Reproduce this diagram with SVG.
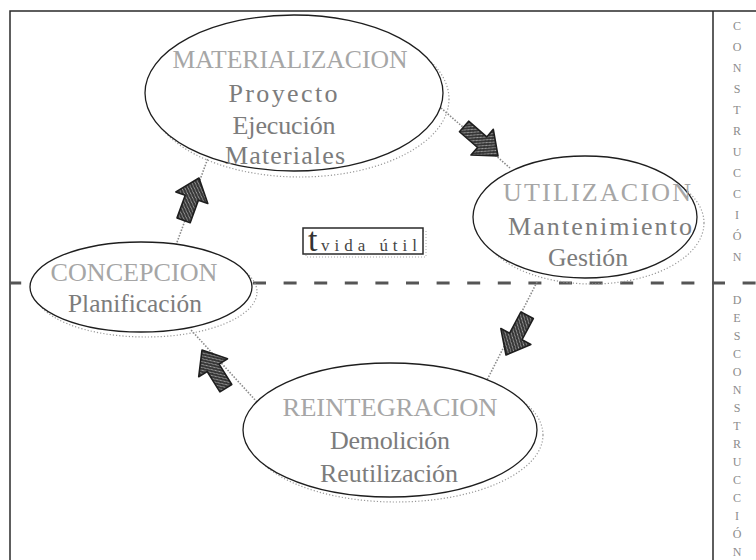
<svg xmlns="http://www.w3.org/2000/svg" width="756" height="560" viewBox="0 0 756 560">
<defs>
<pattern id="hatch" width="4" height="4" patternUnits="userSpaceOnUse">
<rect width="4" height="4" fill="#363636"/>
<path d="M0 4L4 0M-1 1L1 -1M3 5L5 3" stroke="#bcbcbc" stroke-width="0.8"/>
</pattern>
<polygon id="arrow" points="0,0 -21,-17 -21,-7 -45,-7 -45,7 -21,7 -21,17"/>
</defs>
<style>
.frame{stroke:#2a2a2a;stroke-width:1.5;fill:none}
.divide{stroke:#555;stroke-width:3;stroke-dasharray:13 17.6;stroke-dashoffset:1.8;fill:none}
.node{fill:#fff;stroke:#1e1e1e;stroke-width:1.3}
.shadow{fill:none;stroke:#999;stroke-width:1.2;stroke-dasharray:1.2 2}
.title{font-family:"Liberation Serif","DejaVu Serif",serif;font-size:26px;fill:#a6a6a6;text-anchor:middle}
.body{font-family:"Liberation Serif","DejaVu Serif",serif;font-size:26px;fill:#7c7c7c;text-anchor:middle}
.conn{stroke:#8a8a8a;stroke-width:1.6;stroke-dasharray:1.5 1.5;fill:none}
.arr{fill:url(#hatch);stroke:#1e1e1e;stroke-width:1.6;stroke-linejoin:round}
.col{font-family:"Liberation Serif","DejaVu Serif",serif;font-size:12px;fill:#8c8c8c;text-anchor:middle}
.box{fill:#fff;stroke:#2a2a2a;stroke-width:1.5}
</style>
<rect width="756" height="560" fill="#fff"/>

<g id="frame">
<path class="frame" d="M10 560V11H756M713 11V560"/>
<path class="divide" d="M10 283H756"/>
</g>

<g id="connectors">
<path class="conn" d="M176 245L208 158"/>
<path class="conn" d="M441 108L510 168"/>
<path class="conn" d="M537 282L487 380"/>
<path class="conn" d="M257 402L191 330"/>
</g>

<g id="node-materializacion">
<ellipse class="shadow" cx="300" cy="99" rx="149" ry="78"/>
<ellipse class="node" cx="294" cy="93" rx="149" ry="78"/>
<text class="title" x="290" y="68" textLength="235" lengthAdjust="spacingAndGlyphs">MATERIALIZACION</text>
<text class="body" x="283" y="102" textLength="109" lengthAdjust="spacing">Proyecto</text>
<text class="body" x="284" y="134" textLength="103" lengthAdjust="spacing">Ejecución</text>
<text class="body" x="285" y="164" textLength="120" lengthAdjust="spacing">Materiales</text>
</g>

<g id="node-utilizacion">
<ellipse class="shadow" cx="592" cy="223" rx="112" ry="61"/>
<ellipse class="node" cx="585" cy="217" rx="112" ry="61"/>
<text class="title" x="597" y="201" textLength="188" lengthAdjust="spacing">UTILIZACION</text>
<text class="body" x="600" y="235" textLength="184" lengthAdjust="spacing">Mantenimiento</text>
<text class="body" x="588" y="266" textLength="80" lengthAdjust="spacingAndGlyphs">Gestión</text>
</g>

<g id="node-concepcion">
<ellipse class="shadow" cx="146" cy="292" rx="111" ry="45"/>
<ellipse class="node" cx="141" cy="287" rx="111" ry="45"/>
<text class="title" x="134" y="281" textLength="167" lengthAdjust="spacingAndGlyphs">CONCEPCION</text>
<text class="body" x="135" y="312" textLength="134" lengthAdjust="spacingAndGlyphs">Planificación</text>
</g>

<g id="node-reintegracion">
<ellipse class="shadow" cx="396" cy="435" rx="147" ry="67"/>
<ellipse class="node" cx="390" cy="430" rx="147" ry="67"/>
<text class="title" x="390" y="416" textLength="215" lengthAdjust="spacingAndGlyphs">REINTEGRACION</text>
<text class="body" x="390" y="449" textLength="120" lengthAdjust="spacing">Demolición</text>
<text class="body" x="389" y="482" textLength="138" lengthAdjust="spacing">Reutilización</text>
</g>

<g id="arrows">
<use href="#arrow" class="arr" transform="translate(199 178) rotate(-70)"/>
<use href="#arrow" class="arr" transform="translate(498 156) rotate(41)"/>
<use href="#arrow" class="arr" transform="translate(506 355) rotate(118)"/>
<use href="#arrow" class="arr" transform="translate(202 350) rotate(-122)"/>
</g>

<g id="node-vida-util">
<rect x="306" y="231" width="120" height="26" fill="none" stroke="#aaa" stroke-width="1" stroke-dasharray="1 2"/>
<rect class="box" x="303" y="228" width="120" height="26"/>
<text x="308" y="251" font-family="Liberation Serif, DejaVu Serif, serif" font-size="34" fill="#333">t</text>
<text x="321" y="251" font-family="Liberation Serif, DejaVu Serif, serif" font-size="17" fill="#444" textLength="96" lengthAdjust="spacing">vida útil</text>
</g>

<g id="label-construccion">
<text class="col"><tspan x="737" y="30">C</tspan><tspan x="737" dy="21">O</tspan><tspan x="737" dy="21">N</tspan><tspan x="737" dy="21">S</tspan><tspan x="737" dy="21">T</tspan><tspan x="737" dy="21">R</tspan><tspan x="737" dy="21">U</tspan><tspan x="737" dy="21">C</tspan><tspan x="737" dy="21">C</tspan><tspan x="737" dy="21">I</tspan><tspan x="737" dy="21">Ó</tspan><tspan x="737" dy="21">N</tspan></text>
</g>

<g id="label-desconstruccion">
<text class="col"><tspan x="737" y="304">D</tspan><tspan x="737" dy="18">E</tspan><tspan x="737" dy="18">S</tspan><tspan x="737" dy="18">C</tspan><tspan x="737" dy="18">O</tspan><tspan x="737" dy="18">N</tspan><tspan x="737" dy="18">S</tspan><tspan x="737" dy="18">T</tspan><tspan x="737" dy="18">R</tspan><tspan x="737" dy="18">U</tspan><tspan x="737" dy="18">C</tspan><tspan x="737" dy="18">C</tspan><tspan x="737" dy="18">I</tspan><tspan x="737" dy="18">Ó</tspan><tspan x="737" dy="18">N</tspan></text>
</g>
</svg>
